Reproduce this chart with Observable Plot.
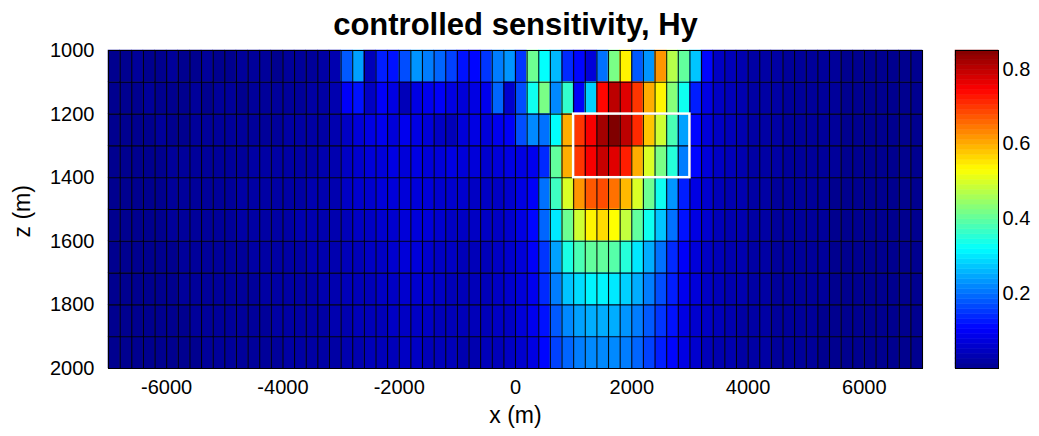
<!DOCTYPE html>
<html>
<head>
<meta charset="utf-8">
<script src="https://cdn.jsdelivr.net/npm/d3@7"></script>
<script src="https://cdn.jsdelivr.net/npm/@observablehq/plot@0.6"></script>
<style>
  html, body { margin: 0; padding: 0; background: #fff; }
  #wrap { position: relative; width: 1039px; height: 436px; background: #fff; }
  #wrap svg { position: absolute; top: 0; }
</style>
</head>
<body>
<div id="wrap"></div>
<script>
// ---- data: sensitivity values, one row per depth (70 columns of 200 m, x from -7000 to 7000) ----
const titleText = "controlled sensitivity, Hy";
const xLabel = "x (m)";
const zLabel = "z (m)";
const xTicks = [-6000, -4000, -2000, 0, 2000, 4000, 6000];
const zTicks = [1000, 1200, 1400, 1600, 1800, 2000];
const cbTicks = [0.2, 0.4, 0.6, 0.8];
const zTops = [1000, 1100, 1200, 1300, 1400, 1500, 1600, 1700, 1800, 1900];
const cellWidth = 200, cellHeight = 100;
const xStart = -7000, xEnd = 7000;
const zStart = 1000, zEnd = 2000;
const colorMax = 0.85;
const targetX = [1000, 3000];
const targetZ = [1200, 1400];

const r1000 = [0.0,0.0,0.01,0.0,0.0,0.01,0.0,0.0,0.01,0.0,0.0,0.01,0.01,0.01,0.0,0.01,0.01,0.01,0.02,0.03,
  0.18,0.24,0.04,0.13,0.12,0.17,0.23,0.21,0.19,0.16,0.12,0.11,0.15,0.21,
  0.23,0.15,0.41,0.32,0.26,0.14,0.11,0.07,0.2,0.42,0.54,0.18,0.23,0.62,0.47,0.4,0.27,0.11,
  0.05,0.04,0.03,0.02,0.02,0.02,0.01,0.01,0.01,0.01,0.01,0.0,0.0,0.0,0.0,0.0,0.0,0.0];
const r1100 = [0.0,0.0,0.0,0.01,0.0,0.0,0.0,0.01,0.0,0.01,0.01,0.0,0.01,0.01,0.01,0.01,0.01,0.02,0.02,0.03,
  0.1,0.12,0.05,0.1,0.08,0.04,0.08,0.09,0.1,0.08,0.07,0.08,0.09,0.19,
  0.06,0.17,0.33,0.42,0.22,0.36,0.1,0.28,0.74,0.8,0.77,0.7,0.6,0.54,0.43,0.33,0.13,0.08,
  0.05,0.04,0.03,0.02,0.02,0.02,0.01,0.01,0.01,0.01,0.01,0.0,0.0,0.0,0.0,0.0,0.0,0.0];
const r1200 = [0.0,0.0,0.0,0.0,0.01,0.0,0.0,0.01,0.01,0.01,0.01,0.01,0.01,0.01,0.01,0.02,0.02,0.02,0.02,0.03,
  0.05,0.07,0.08,0.09,0.07,0.09,0.08,0.07,0.05,0.04,0.07,0.08,0.07,0.09,
  0.1,0.17,0.22,0.2,0.32,0.6,0.7,0.75,0.82,0.85,0.8,0.71,0.58,0.49,0.38,0.24,0.11,0.07,
  0.05,0.04,0.03,0.02,0.02,0.02,0.01,0.01,0.01,0.01,0.01,0.0,0.0,0.0,0.0,0.0,0.0,0.0];
const r1300 = [0.0,0.0,0.0,0.0,0.0,0.01,0.01,0.01,0.01,0.01,0.01,0.01,0.02,0.02,0.02,0.02,0.02,0.02,0.03,0.03,
  0.05,0.06,0.07,0.07,0.08,0.07,0.08,0.07,0.07,0.08,0.07,0.07,0.06,0.07,
  0.08,0.08,0.09,0.14,0.4,0.6,0.7,0.75,0.79,0.77,0.72,0.6,0.5,0.42,0.35,0.21,0.11,0.07,
  0.05,0.04,0.03,0.02,0.02,0.02,0.01,0.01,0.01,0.01,0.01,0.0,0.0,0.0,0.0,0.0,0.0,0.0];
const r1400 = [0.0,0.0,0.0,0.0,0.0,0.01,0.01,0.01,0.01,0.01,0.01,0.02,0.02,0.02,0.02,0.02,0.02,0.03,0.03,0.03,
  0.05,0.06,0.06,0.07,0.07,0.07,0.07,0.07,0.06,0.06,0.06,0.05,0.05,0.05,
  0.06,0.08,0.1,0.2,0.37,0.5,0.62,0.67,0.68,0.65,0.59,0.5,0.41,0.33,0.23,0.13,0.08,0.06,
  0.04,0.03,0.03,0.02,0.02,0.01,0.01,0.01,0.01,0.01,0.0,0.0,0.0,0.0,0.0,0.0,0.0,0.0];
const r1500 = [0.0,0.0,0.0,0.0,0.0,0.01,0.01,0.01,0.01,0.01,0.01,0.02,0.02,0.02,0.02,0.02,0.03,0.03,0.03,0.03,
  0.04,0.05,0.05,0.06,0.06,0.07,0.07,0.07,0.06,0.05,0.05,0.05,0.05,0.05,
  0.06,0.08,0.11,0.19,0.3,0.41,0.49,0.54,0.56,0.53,0.48,0.4,0.33,0.27,0.2,0.12,0.08,0.06,
  0.04,0.03,0.03,0.02,0.02,0.01,0.01,0.01,0.01,0.01,0.0,0.0,0.0,0.0,0.0,0.0,0.0,0.0];
const r1600 = [0.0,0.0,0.0,0.0,0.0,0.0,0.01,0.01,0.01,0.01,0.01,0.01,0.02,0.02,0.02,0.02,0.02,0.03,0.03,0.03,
  0.04,0.04,0.05,0.05,0.06,0.07,0.07,0.06,0.05,0.05,0.04,0.04,0.04,0.05,
  0.06,0.07,0.1,0.15,0.24,0.34,0.38,0.4,0.4,0.39,0.35,0.3,0.25,0.2,0.14,0.1,0.07,0.05,
  0.04,0.03,0.03,0.02,0.02,0.01,0.01,0.01,0.01,0.01,0.0,0.0,0.0,0.0,0.0,0.0,0.0,0.0];
const r1700 = [0.0,0.0,0.0,0.0,0.0,0.0,0.01,0.01,0.01,0.01,0.01,0.01,0.01,0.02,0.02,0.02,0.02,0.02,0.03,0.03,
  0.04,0.04,0.04,0.05,0.05,0.06,0.06,0.06,0.05,0.04,0.04,0.04,0.04,0.05,
  0.06,0.07,0.09,0.14,0.21,0.27,0.29,0.31,0.31,0.3,0.28,0.25,0.21,0.17,0.13,0.09,0.07,0.05,
  0.04,0.03,0.03,0.02,0.02,0.01,0.01,0.01,0.01,0.01,0.0,0.0,0.0,0.0,0.0,0.0,0.0,0.0];
const r1800 = [0.0,0.0,0.0,0.0,0.0,0.0,0.0,0.01,0.01,0.01,0.01,0.01,0.01,0.01,0.02,0.02,0.02,0.02,0.02,0.03,
  0.03,0.04,0.04,0.04,0.05,0.05,0.05,0.05,0.04,0.04,0.04,0.04,0.04,0.05,
  0.05,0.07,0.09,0.12,0.18,0.22,0.24,0.25,0.25,0.25,0.23,0.21,0.18,0.15,0.12,0.08,0.06,0.05,
  0.04,0.03,0.02,0.02,0.02,0.01,0.01,0.01,0.01,0.0,0.0,0.0,0.0,0.0,0.0,0.0,0.0,0.0];
const r1900 = [0.0,0.0,0.0,0.0,0.0,0.0,0.0,0.0,0.01,0.01,0.01,0.01,0.01,0.01,0.01,0.02,0.02,0.02,0.02,0.02,
  0.03,0.03,0.04,0.04,0.04,0.05,0.05,0.04,0.04,0.04,0.03,0.03,0.04,0.04,
  0.05,0.06,0.08,0.11,0.16,0.19,0.21,0.22,0.22,0.22,0.21,0.19,0.16,0.13,0.11,0.08,0.06,0.04,
  0.03,0.03,0.02,0.02,0.02,0.01,0.01,0.01,0.01,0.0,0.0,0.0,0.0,0.0,0.0,0.0,0.0,0.0];

// ---- build table ----
const rows = [r1000, r1100, r1200, r1300, r1400, r1500, r1600, r1700, r1800, r1900];
const xLefts = d3.range(xStart, xEnd, cellWidth);
const xEdges = d3.range(xStart, xEnd + 1, cellWidth);
const zEdges = [...zTops, zEnd];
const cells = [];
rows.forEach((row, j) => row.forEach((v, i) => {
  cells.push({x1: xLefts[i], x2: xLefts[i] + cellWidth, z1: zTops[j], z2: zTops[j] + cellHeight, v});
}));

// MATLAB "jet" colormap
const jetColors = ["#00008f", "#0000ff", "#00ffff", "#ffff00", "#ff0000", "#800000"];
const jetPos = [0, 1/8, 3/8, 5/8, 7/8, 1];
const colorScale = {type: "linear", domain: jetPos.map(p => p * colorMax), range: jetColors, interpolate: "rgb", clamp: true};

const font = "'Liberation Sans', Arial, Helvetica, sans-serif";

const main = Plot.plot({
  width: 1039, height: 436,
  marginLeft: 108, marginRight: 117, marginTop: 50, marginBottom: 68,
  style: {fontFamily: font, fontSize: "20px", color: "#000", background: "transparent", overflow: "visible"},
  x: {domain: [xStart, xEnd], ticks: xTicks, tickFormat: d => String(d), tickSize: 0, tickPadding: 11, label: null},
  y: {domain: [zStart, zEnd], reverse: true, ticks: zTicks, tickFormat: d => String(d), tickSize: 0, tickPadding: 14, label: null},
  color: colorScale,
  marks: [
    Plot.rect(cells, {x1: "x1", x2: "x2", y1: "z1", y2: "z2", fill: "v", stroke: "v", strokeWidth: 0.5}),
    Plot.ruleX(xEdges, {y1: zStart, y2: zEnd, stroke: "#000", strokeWidth: 1.1, strokeOpacity: 0.9}),
    Plot.ruleY(zEdges, {x1: xStart, x2: xEnd, stroke: "#000", strokeWidth: 1.1, strokeOpacity: 0.9}),
    Plot.rect([{x1: targetX[0], x2: targetX[1], z1: targetZ[0], z2: targetZ[1]}],
      {x1: "x1", x2: "x2", y1: "z1", y2: "z2", fill: "none", stroke: "#fff", strokeWidth: 2.5}),
    Plot.frame({stroke: "#000", strokeWidth: 1}),
    Plot.text([titleText], {text: d => d, frameAnchor: "top", lineAnchor: "middle", dy: -25, fontSize: 31, fontWeight: "bold"}),
    Plot.text([xLabel], {text: d => d, frameAnchor: "bottom", lineAnchor: "middle", dy: 47, fontSize: 23}),
    Plot.text([zLabel], {text: d => d, frameAnchor: "left", dx: -86, dy: 28, rotate: -90, fontSize: 23})
  ]
});

// colorbar
const nLevels = 64;
const step = colorMax / nLevels;
const levels = d3.range(nLevels).map(k => k * step);
const bar = Plot.plot({
  width: 94, height: 436,
  marginLeft: 10, marginRight: 41, marginTop: 50, marginBottom: 68,
  style: {fontFamily: font, fontSize: "20px", color: "#000", background: "transparent", overflow: "visible"},
  x: {domain: [0, 1], axis: null},
  y: {domain: [0, colorMax], ticks: cbTicks, tickFormat: d => d.toFixed(1), tickSize: 0, tickPadding: 4, axis: "right", label: null},
  color: colorScale,
  marks: [
    Plot.rect(levels, {x1: 0, x2: 1, y1: d => d, y2: d => d + step, fill: d => d + step / 2, stroke: d => d + step / 2, strokeWidth: 0.5}),
    Plot.frame({stroke: "#000", strokeWidth: 1})
  ]
});

const wrap = document.getElementById("wrap");
main.style.left = "0px";
bar.style.left = "945px";
wrap.appendChild(main);
wrap.appendChild(bar);
</script>
</body>
</html>
